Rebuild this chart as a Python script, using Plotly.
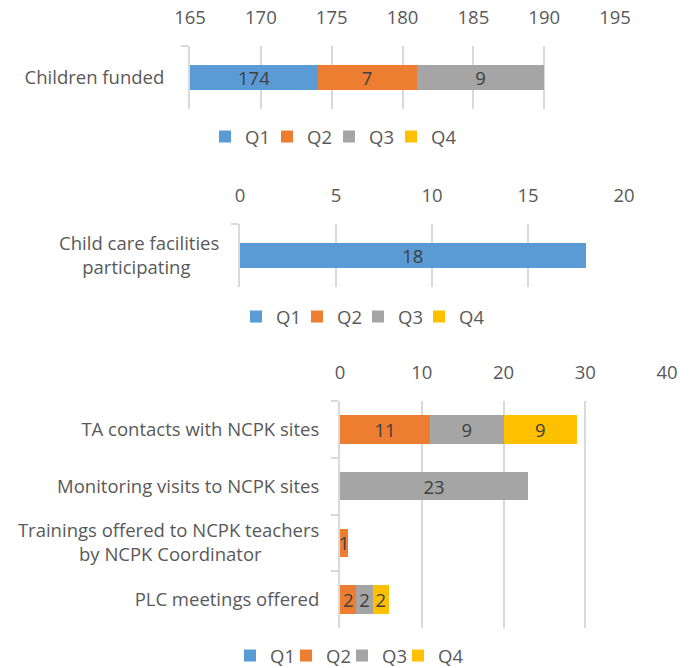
import plotly.graph_objects as go

# ---------------- data ----------------
quarters = ["Q1", "Q2", "Q3", "Q4"]
colors = ["#5B9BD5", "#ED7D31", "#A5A5A5", "#FFC000"]

cats1 = ["Children funded"]
c1_q1 = [174]
c1_q2 = [7]
c1_q3 = [9]
c1_q4 = [None]

cats2 = ["Child care facilities<br>participating" + "\u00a0" * 6]
c2_q1 = [18]
c2_q2 = [None]
c2_q3 = [None]
c2_q4 = [None]

cats3 = ["TA contacts with NCPK sites",
         "Monitoring visits to NCPK sites",
         "Trainings offered to NCPK teachers<br>by NCPK Coordinator" + "\u00a0" * 12,
         "PLC meetings offered"]
c3_q1 = [None, None, None, None]
c3_q2 = [11, None, 1, 2]
c3_q3 = [9, 23, None, 2]
c3_q4 = [9, None, None, 2]

x1_ticks = [165, 170, 175, 180, 185, 190, 195]
x2_ticks = [0, 5, 10, 15, 20]
x3_ticks = [0, 10, 20, 30, 40]

# ---------------- style ----------------
FONT = "Open Sans"
FS = 18.5
TXT = "#595959"
LBL = "#404040"
GRID = "#D9D9D9"
W, H = 692, 684   # page is clipped to the 668 px window; extra room keeps the last legend low

def px_x(a, b):
    return [a / W, b / W]

def px_y(top, bottom):
    return [1 - bottom / H, 1 - top / H]

fig = go.Figure()

x1_range = [x1_ticks[0], x1_ticks[-1]]

charts = [
    (cats1, [c1_q1, c1_q2, c1_q3, c1_q4], "x", "y", "legend", 0.4),
    (cats2, [c2_q1, c2_q2, c2_q3, c2_q4], "x2", "y2", "legend2", 0.4),
    (cats3, [c3_q1, c3_q2, c3_q3, c3_q4], "x3", "y3", "legend3", 0.5),
]

for ci, (cats, series, xa, ya, lg, bw) in enumerate(charts):
    for qi, (q, col, vals) in enumerate(zip(quarters, colors, series)):
        clipped = (ci == 0 and qi == 0)  # bar starts left of the axis minimum
        extra = {"legendwidth": 40} if qi == len(quarters) - 1 else {}
        fig.add_trace(go.Bar(
            y=cats, x=vals, name=q, orientation="h",
            marker=dict(color=col, line=dict(width=0)),
            width=bw,
            xaxis=xa, yaxis=ya, legend=lg,
            text=[("" if v is None else str(v)) for v in vals],
            textposition="none" if clipped else "inside",
            insidetextanchor="middle",
            textangle=0, constraintext="none",
            textfont=dict(family=FONT, size=FS, color=LBL),
            hoverinfo="x+name",
            **extra,
        ))

# label for the bar whose start lies outside the visible axis range
fig.add_annotation(
    x=(x1_range[0] + c1_q1[0]) / 2, y=cats1[0], xref="x", yref="y",
    text=str(c1_q1[0]), showarrow=False,
    font=dict(family=FONT, size=FS, color=LBL))

def xaxis(domain, anchor, rng, ticks):
    return dict(domain=domain, anchor=anchor, side="top", range=rng,
                tickvals=ticks, showgrid=True, gridcolor=GRID, gridwidth=2,
                zeroline=False, showline=False, ticks="",
                ticklabelstandoff=17, automargin=False,
                tickfont=dict(family=FONT, size=FS, color=TXT), fixedrange=True)

def yaxis(domain, anchor, standoff, reverse=False):
    d = dict(domain=domain, anchor=anchor, type="category",
             showline=True, linecolor=GRID, linewidth=2,
             ticks="outside", tickson="boundaries", ticklen=7,
             tickcolor=GRID, tickwidth=2, showgrid=False,
             ticklabelstandoff=standoff, automargin=False,
             tickfont=dict(family=FONT, size=FS, color=TXT), fixedrange=True)
    if reverse:
        d["autorange"] = "reversed"
    return d

legend_base = dict(orientation="h", xanchor="left", yanchor="middle",
                   font=dict(family=FONT, size=FS, color=TXT),
                   itemwidth=30, traceorder="normal", bgcolor="rgba(0,0,0,0)",
                   entrywidthmode="pixels",
                   itemclick=False, itemdoubleclick=False)

fig.update_layout(
    width=W, height=H,
    margin=dict(l=0, r=0, t=0, b=0),
    paper_bgcolor="white", plot_bgcolor="white",
    barmode="stack",
    showlegend=True,
    font=dict(family=FONT, size=FS, color=TXT),
    xaxis=xaxis(px_x(190, 615), "y", x1_range, x1_ticks),
    yaxis=yaxis(px_y(46, 109), "x", 20),
    xaxis2=xaxis(px_x(240, 624), "y2", [x2_ticks[0], x2_ticks[-1]], x2_ticks),
    yaxis2=yaxis(px_y(224, 287), "x2", 15),
    xaxis3=xaxis(px_x(340, 667), "y3", [x3_ticks[0], x3_ticks[-1]], x3_ticks),
    yaxis3=yaxis(px_y(401, 628), "x3", 15, reverse=True),
    legend=dict(legend_base, x=205 / W, y=1 - 137 / H, entrywidth=17),
    legend2=dict(legend_base, x=236 / W, y=1 - 317 / H, entrywidth=16),
    legend3=dict(legend_base, x=230 / W, y=1 - 656 / H, entrywidth=11),
)

fig.write_html(
    "out.html",
    config={"displayModeBar": False},
    post_script="document.body.style.margin='0px';"
                "document.documentElement.style.overflow='hidden';"
                "document.body.style.overflow='hidden';",
)
